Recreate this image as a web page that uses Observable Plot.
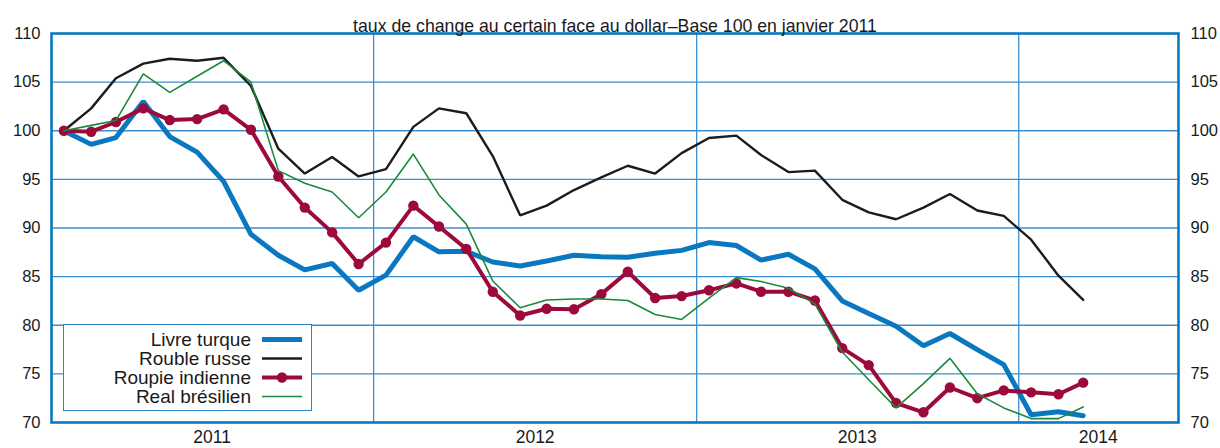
<!DOCTYPE html>
<html>
<head>
<meta charset="utf-8">
<script src="https://cdn.jsdelivr.net/npm/d3@7"></script>
<script src="https://cdn.jsdelivr.net/npm/@observablehq/plot@0.6"></script>
<style>
  html, body { margin: 0; padding: 0; background: #fff; }
  #wrap { position: relative; width: 1220px; height: 448px; font-family: "Liberation Sans", Arial, sans-serif; }
  #legend { position: absolute; left: 63px; top: 324px; width: 249px; height: 87px; box-sizing: border-box;
            border: 1px solid #2a86c8; background: #fff; }
  #legend .row { position: absolute; left: 0; height: 19px; width: 249px; }
  #legend .lab { position: absolute; right: 62px; top: 0; font-size: 19px; line-height: 19px; color: #1a1a1a; white-space: nowrap; }
  #legend svg { position: absolute; left: 198px; top: 0; }
</style>
</head>
<body>
<div id="wrap"></div>
<script>
const title = "taux de change au certain face au dollar\u2013Base 100 en janvier 2011";

const months = [
  "2011-01","2011-02","2011-03","2011-04","2011-05","2011-06","2011-07","2011-08","2011-09","2011-10","2011-11","2011-12",
  "2012-01","2012-02","2012-03","2012-04","2012-05","2012-06","2012-07","2012-08","2012-09","2012-10","2012-11","2012-12",
  "2013-01","2013-02","2013-03","2013-04","2013-05","2013-06","2013-07","2013-08","2013-09","2013-10","2013-11","2013-12",
  "2014-01","2014-02","2014-03"
];

const seriesNames = ["Livre turque", "Rouble russe", "Roupie indienne", "Real brésilien"];

const livreTurque = [
  100, 98.6, 99.3, 103.0, 99.4, 97.8, 94.8, 89.35, 87.2, 85.7, 86.35, 83.6,
  85.15, 89.1, 87.55, 87.6, 86.5, 86.1, 86.6, 87.2, 87.05, 87.0, 87.4, 87.7,
  88.5, 88.2, 86.7, 87.3, 85.8, 82.5, 81.2, 79.9, 77.9, 79.15, 77.5, 75.95,
  70.8, 71.1, 70.7
];
const roubleRusse = [
  100, 102.3, 105.4, 106.9, 107.4, 107.2, 107.5, 104.6, 98.15, 95.6, 97.3, 95.3,
  96.05, 100.4, 102.3, 101.8, 97.4, 91.3, 92.3, 93.9, 95.2, 96.4, 95.6, 97.7,
  99.25, 99.5, 97.5, 95.75, 95.9, 92.9, 91.6, 90.9, 92.1, 93.5, 91.8, 91.25,
  88.8, 85.1, 82.6
];
const roupieIndienne = [
  100, 99.9, 100.9, 102.3, 101.1, 101.2, 102.2, 100.1, 95.3, 92.1, 89.55, 86.3,
  88.5, 92.3, 90.15, 87.85, 83.45, 81.0, 81.7, 81.65, 83.2, 85.5, 82.8, 83.0,
  83.6, 84.3, 83.45, 83.45, 82.55, 77.65, 75.9, 72.0, 71.05, 73.6, 72.5, 73.3,
  73.1, 72.9, 74.1
];
const realBresilien = [
  100, 100.55, 101.05, 105.85, 103.95, 105.6, 107.2, 105.0, 95.9, 94.6, 93.7, 91.05,
  93.7, 97.6, 93.4, 90.4, 84.55, 81.8, 82.6, 82.7, 82.7, 82.55, 81.1, 80.6,
  82.8, 84.9, 84.5, 83.8, 82.2, 77.25, 74.4, 71.5, 74.0, 76.6, 72.95, 71.5,
  70.4, 70.4, 71.6
];

const yearLabels = ["2011", "2012", "2013", "2014"];
const yearCenters = ["2011-07-02", "2012-07-02", "2013-07-02", "2014-04-01"];
const yearStarts = ["2012-01-01", "2013-01-01", "2014-01-01"];
const xDomain = ["2011-01-01", "2014-07-01"];
const yTicks = [70, 75, 80, 85, 90, 95, 100, 105, 110];

const colors = {
  "Livre turque": "#0a78c0",
  "Rouble russe": "#1c1c1c",
  "Roupie indienne": "#9c0a3c",
  "Real brésilien": "#1a8a3a"
};
const widths = {"Livre turque": 5, "Rouble russe": 2.4, "Roupie indienne": 4, "Real brésilien": 1.6};

const toDate = m => new Date(m + "-15T00:00:00Z");
const mk = (vals, name) => vals.map((v, i) => ({date: toDate(months[i]), value: v, series: name}));
const dLivre = mk(livreTurque, seriesNames[0]);
const dRouble = mk(roubleRusse, seriesNames[1]);
const dRoupie = mk(roupieIndienne, seriesNames[2]);
const dReal = mk(realBresilien, seriesNames[3]);

const gridColor = "#3b8fd0";
const frameColor = "#0a78c0";

const chart = Plot.plot({
  width: 1220,
  height: 448,
  marginLeft: 51,
  marginRight: 42,
  marginTop: 33,
  marginBottom: 26,
  style: {fontFamily: "Liberation Sans, Arial, sans-serif", fontSize: "16.5px", color: "#1a1a1a", background: "#fff"},
  x: {type: "utc", domain: xDomain.map(d => new Date(d + "T00:00:00Z"))},
  y: {domain: [70, 110]},
  marks: [
    Plot.ruleY(yTicks.filter(t => t > 70 && t < 110), {stroke: gridColor, strokeWidth: 1.3}),
    Plot.ruleX(yearStarts.map(d => new Date(d + "T00:00:00Z")), {stroke: gridColor, strokeWidth: 1.3}),
    Plot.frame({stroke: frameColor, strokeWidth: 2.6}),
    Plot.axisY(yTicks, {anchor: "left", tickSize: 0, tickPadding: 11, label: null, fontSize: 16.5}),
    Plot.axisY(yTicks, {anchor: "right", tickSize: 0, tickPadding: 12, label: null, fontSize: 16.5}),
    Plot.axisX(yearCenters.map(d => new Date(d + "T00:00:00Z")), {
      tickSize: 0, tickPadding: 8, label: null, fontSize: 17.5,
      tickFormat: (d, i) => yearLabels[i]
    }),
    Plot.line(dLivre, {x: "date", y: "value", stroke: colors["Livre turque"], strokeWidth: widths["Livre turque"], strokeLinejoin: "miter"}),
    Plot.line(dRouble, {x: "date", y: "value", stroke: colors["Rouble russe"], strokeWidth: widths["Rouble russe"], strokeLinejoin: "miter"}),
    Plot.line(dRoupie, {x: "date", y: "value", stroke: colors["Roupie indienne"], strokeWidth: widths["Roupie indienne"]}),
    Plot.dot(dRoupie, {x: "date", y: "value", fill: colors["Roupie indienne"], r: 5.2}),
    Plot.line(dReal, {x: "date", y: "value", stroke: colors["Real brésilien"], strokeWidth: widths["Real brésilien"], strokeLinejoin: "miter"}),
    Plot.text([title], {frameAnchor: "top", dy: -14, fontSize: 17.7, fill: "#1a1a1a"})
  ]
});

const wrap = document.getElementById("wrap");
wrap.appendChild(chart);

// Legend overlay
const legend = document.createElement("div");
legend.id = "legend";
seriesNames.forEach((name, i) => {
  const row = document.createElement("div");
  row.className = "row";
  row.style.top = (5 + i * 19) + "px";
  const lab = document.createElement("span");
  lab.className = "lab";
  lab.textContent = name;
  row.appendChild(lab);
  const svg = d3.create("svg").attr("width", 42).attr("height", 19);
  svg.append("line").attr("x1", 0).attr("x2", 40).attr("y1", 9.5).attr("y2", 9.5)
    .attr("stroke", colors[name]).attr("stroke-width", widths[name]);
  if (name === "Roupie indienne") {
    svg.append("circle").attr("cx", 20).attr("cy", 9.5).attr("r", 5.2).attr("fill", colors[name]);
  }
  row.appendChild(svg.node());
  legend.appendChild(row);
});
wrap.appendChild(legend);
</script>
</body>
</html>
